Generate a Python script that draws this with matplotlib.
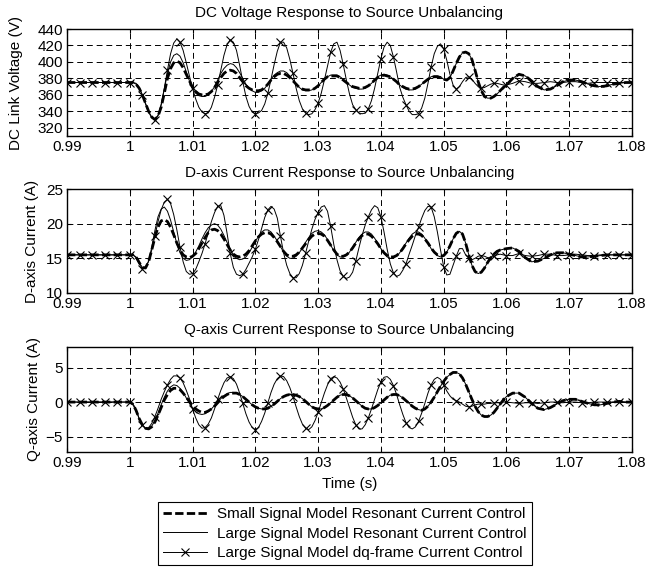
import numpy as np
import matplotlib
matplotlib.use("Agg")
import matplotlib.pyplot as plt

plt.rcParams['font.family'] = ['Liberation Sans', 'DejaVu Sans']
plt.rcParams['font.size'] = 11

# time base: 1 ms before/after the transient, 0.5 ms during it
t = np.concatenate([np.arange(9900, 10000, 10),
                    np.arange(10000, 10605, 5),
                    np.arange(10610, 10805, 10)]) / 10000.0

# ---- DC link voltage (V) ----
vdc_small = [375, 375, 375, 375, 375, 375, 375, 375, 375, 375,
             375, 375, 373, 368, 360, 350, 340, 333, 330, 334,
             345, 362, 380, 392, 399, 401, 399, 393, 385, 377,
             369, 364, 361, 360, 360, 361, 364, 369, 375, 381,
             386, 389, 390, 389, 386, 381, 376, 371, 368, 366,
             365, 365, 366, 369, 373, 378, 382, 385, 386, 386,
             384, 381, 377, 373, 369, 367, 366, 366, 366, 368,
             371, 375, 379, 382, 383, 383, 383, 381, 378, 375,
             372, 370, 369, 368, 368, 369, 371, 374, 378, 381,
             383, 384, 383, 382, 379, 376, 372, 370, 368, 367,
             367, 368, 370, 373, 376, 379, 381, 382, 382, 381,
             379, 378, 381, 389, 398, 406, 411, 412, 410, 403,
             390, 376, 365, 358, 356, 356, 358, 361, 365, 369,
             372,
             380, 385, 383, 377, 370, 366, 367, 371, 376, 378,
             378, 376, 373, 371, 370, 371, 373, 374, 375, 375]
vdc_large = [375, 375, 375, 375, 375, 375, 375, 375, 375, 375,
             375, 375, 373, 368, 360, 350, 340, 333, 330, 335,
             348, 367, 386, 400, 408, 410, 407, 399, 388, 377,
             368, 362, 359, 358, 358, 360, 364, 370, 378, 386,
             392, 396, 398, 397, 393, 387, 380, 373, 368, 365,
             363, 363, 365, 368, 373, 379, 384, 387, 389, 389,
             387, 383, 378, 373, 369, 366, 365, 365, 366, 368,
             371, 375, 379, 382, 384, 384, 384, 382, 379, 375,
             372, 369, 368, 367, 367, 368, 371, 374, 378, 382,
             384, 385, 384, 382, 379, 376, 372, 369, 367, 366,
             366, 367, 370, 373, 376, 379, 382, 383, 383, 382,
             379, 378, 381, 389, 398, 406, 411, 412, 410, 403,
             390, 376, 365, 358, 356, 356, 358, 361, 365, 369,
             372,
             380, 385, 383, 377, 370, 366, 367, 371, 376, 378,
             378, 376, 373, 371, 370, 371, 373, 374, 375, 375]
vdc_dq = [375, 375, 375, 375, 375, 375, 375, 375, 375, 375,
          375, 375, 374, 369, 360, 349, 339, 332, 330, 335,
          348, 368, 390, 410, 423, 428, 424, 414, 399, 383,
          368, 355, 345, 339, 337, 338, 345, 357, 372, 390,
          408, 421, 427, 424, 414, 396, 376, 358, 346, 339,
          337, 338, 341, 349, 362, 379, 397, 413, 424, 424,
          417, 403, 386, 368, 353, 343, 338, 336, 337, 342,
          350, 362, 378, 395, 412, 422, 424, 414, 397, 378,
          361, 348, 342, 338, 337, 338, 343, 353, 368, 386,
          404, 418, 424, 420, 406, 388, 369, 357, 348, 340,
          336, 336, 337, 344, 356, 374, 394, 410, 419, 422,
          416, 402, 385, 372, 367, 370, 376, 381, 382, 379,
          374, 370, 368, 369, 371, 373, 374, 374, 373, 372,
          372,
          374, 377, 376, 374, 374, 375, 376, 375, 375, 376,
          376, 375, 374, 375, 375, 375, 375, 375, 375, 375]

# ---- D-axis current (A) ----
id_small = [15.5, 15.5, 15.5, 15.5, 15.5, 15.5, 15.5, 15.5, 15.5, 15.5,
            15.5, 15.5, 15.2, 14.4, 13.7, 13.6, 14.5, 16.2, 18.0, 19.5,
            20.4, 20.6, 20.3, 19.5, 18.4, 17.2, 16.2, 15.5, 15.2, 15.1,
            15.3, 15.7, 16.4, 17.2, 18.0, 18.7, 19.1, 19.2, 19.0, 18.5,
            17.8, 17.0, 16.2, 15.6, 15.3, 15.2, 15.3, 15.6, 16.1, 16.8,
            17.5, 18.1, 18.5, 18.7, 18.7, 18.5, 18.0, 17.4, 16.7, 16.0,
            15.5, 15.3, 15.3, 15.5, 15.9, 16.5, 17.1, 17.7, 18.2, 18.5,
            18.6, 18.5, 18.2, 17.6, 16.9, 16.2, 15.6, 15.3, 15.3, 15.5,
            15.9, 16.5, 17.2, 17.8, 18.3, 18.5, 18.5, 18.2, 17.7, 17.1,
            16.4, 15.8, 15.4, 15.2, 15.2, 15.4, 15.8, 16.4, 17.1, 17.7,
            18.2, 18.5, 18.5, 18.3, 17.8, 17.2, 16.5, 15.9, 15.5, 15.3,
            15.4, 15.9, 16.8, 17.8, 18.6, 18.9, 18.5, 17.2, 15.5, 14.0,
            13.1, 12.8, 13.0, 13.6, 14.4, 15.1, 15.6, 16.0, 16.2, 16.3,
            16.4,
            16.5, 16.0, 15.1, 14.5, 14.6, 15.0, 15.5, 15.8, 15.8, 15.6,
            15.4, 15.2, 15.2, 15.3, 15.4, 15.5, 15.5, 15.5, 15.5, 15.5]
id_large = [15.5, 15.5, 15.5, 15.5, 15.5, 15.5, 15.5, 15.5, 15.5, 15.5,
            15.5, 15.5, 15.2, 14.4, 13.7, 13.6, 14.6, 16.6, 19.0, 21.0,
            22.1, 22.4, 21.8, 20.5, 18.8, 17.1, 15.8, 15.0, 14.7, 14.8,
            15.2, 15.9, 16.8, 17.8, 18.7, 19.4, 19.8, 20.0, 19.8, 19.2,
            18.3, 17.3, 16.3, 15.5, 15.0, 14.8, 14.9, 15.2, 15.8, 16.6,
            17.4, 18.2, 18.8, 19.1, 19.1, 18.8, 18.2, 17.5, 16.7, 15.9,
            15.3, 15.0, 15.0, 15.3, 15.8, 16.5, 17.3, 18.0, 18.6, 18.9,
            19.0, 18.8, 18.4, 17.7, 16.9, 16.1, 15.5, 15.2, 15.2, 15.4,
            15.9, 16.6, 17.3, 18.0, 18.5, 18.8, 18.8, 18.5, 17.9, 17.2,
            16.4, 15.7, 15.2, 15.0, 15.1, 15.3, 15.8, 16.5, 17.2, 17.9,
            18.5, 18.8, 18.8, 18.5, 17.9, 17.2, 16.4, 15.8, 15.4, 15.2,
            15.3, 15.9, 16.8, 17.8, 18.6, 18.9, 18.5, 17.2, 15.5, 14.0,
            13.1, 12.8, 13.0, 13.6, 14.4, 15.1, 15.6, 16.0, 16.2, 16.3,
            16.4,
            16.5, 16.0, 15.1, 14.5, 14.6, 15.0, 15.5, 15.8, 15.8, 15.6,
            15.4, 15.2, 15.2, 15.3, 15.4, 15.5, 15.5, 15.5, 15.5, 15.5]
id_dq = [15.5, 15.5, 15.5, 15.5, 15.5, 15.5, 15.5, 15.5, 15.5, 15.5,
         15.5, 15.5, 15.1, 14.2, 13.5, 13.6, 14.6, 16.2, 18.2, 20.3,
         22.0, 23.1, 23.5, 22.9, 21.3, 19.1, 16.6, 14.5, 13.1, 12.7,
         12.8, 13.4, 14.5, 15.7, 17.1, 18.7, 20.3, 21.6, 22.5, 22.6,
         21.2, 18.6, 15.7, 13.7, 12.7, 12.5, 12.7, 13.4, 14.3, 15.2,
         16.3, 17.7, 19.3, 20.9, 22.0, 22.5, 22.1, 20.8, 18.2, 15.8,
         14.0, 12.8, 12.2, 12.2, 12.8, 14.0, 15.7, 17.5, 19.2, 20.6,
         21.6, 22.4, 22.6, 21.8, 19.6, 17.0, 14.8, 13.2, 12.4, 12.1,
         12.3, 13.0, 14.6, 16.5, 18.3, 19.8, 21.0, 22.0, 22.6, 22.3,
         21.0, 18.8, 16.3, 14.2, 12.9, 12.4, 12.6, 13.3, 14.2, 15.6,
         16.9, 18.3, 19.5, 20.8, 21.9, 22.5, 22.4, 21.0, 18.8, 16.2,
         13.8, 12.6, 12.7, 14.0, 15.3, 16.4, 16.4, 15.5, 15.0, 14.8,
         15.0, 15.3, 15.4, 15.3, 15.1, 15.1, 15.3, 15.5, 15.6, 15.5,
         15.4,
         15.4, 15.7, 15.4, 15.3, 15.4, 15.6, 15.6, 15.4, 15.4, 15.5,
         15.6, 15.5, 15.4, 15.4, 15.5, 15.5, 15.5, 15.5, 15.5, 15.5]

# ---- Q-axis current (A) ----
iq_small = [0.0, 0.0, 0.0, 0.0, 0.0, 0.0, 0.0, 0.0, 0.0, 0.0,
            0.0, -0.3, -1.2, -2.4, -3.3, -3.8, -3.9, -3.6, -2.9, -1.9,
            -0.8, 0.3, 1.1, 1.7, 2.0, 2.0, 1.8, 1.3, 0.7, 0.1,
            -0.5, -1.0, -1.3, -1.5, -1.5, -1.3, -1.0, -0.6, -0.1, 0.4,
            0.8, 1.1, 1.3, 1.3, 1.3, 1.1, 0.8, 0.4, 0.0, -0.4,
            -0.7, -0.9, -1.0, -1.0, -0.9, -0.6, -0.3, 0.1, 0.5, 0.8,
            1.0, 1.1, 1.1, 1.0, 0.8, 0.5, 0.1, -0.3, -0.7, -0.9,
            -1.0, -1.0, -0.8, -0.5, -0.1, 0.3, 0.7, 1.0, 1.1, 1.1,
            0.9, 0.6, 0.2, -0.2, -0.6, -0.9, -1.0, -1.0, -0.8, -0.5,
            -0.1, 0.3, 0.7, 1.0, 1.1, 1.1, 0.9, 0.6, 0.2, -0.2,
            -0.6, -0.9, -1.1, -1.2, -1.0, -0.6, 0.0, 0.7, 1.5, 2.3,
            3.0, 3.6, 4.0, 4.3, 4.3, 4.1, 3.5, 2.6, 1.5, 0.4,
            -0.6, -1.4, -1.9, -2.1, -2.1, -1.9, -1.5, -0.9, -0.3, 0.3,
            0.8,
            1.3, 1.3, 0.7, -0.2, -0.9, -1.1, -0.8, -0.3, 0.2, 0.4,
            0.4, 0.1, -0.2, -0.4, -0.4, -0.2, 0.0, 0.1, 0.0, 0.0]
iq_large = [0.0, 0.0, 0.0, 0.0, 0.0, 0.0, 0.0, 0.0, 0.0, 0.0,
            0.0, -0.3, -1.2, -2.4, -3.3, -3.8, -3.9, -3.5, -2.7, -1.6,
            -0.4, 0.7, 1.6, 2.2, 2.5, 2.4, 2.0, 1.4, 0.6, -0.2,
            -0.9, -1.4, -1.7, -1.8, -1.7, -1.4, -1.0, -0.5, 0.0, 0.5,
            0.9, 1.2, 1.4, 1.4, 1.3, 1.1, 0.8, 0.4, 0.0, -0.4,
            -0.7, -0.9, -1.0, -1.0, -0.9, -0.6, -0.3, 0.1, 0.5, 0.8,
            1.0, 1.1, 1.1, 1.0, 0.8, 0.5, 0.1, -0.3, -0.7, -0.9,
            -1.0, -1.0, -0.8, -0.5, -0.1, 0.3, 0.7, 1.0, 1.1, 1.1,
            0.9, 0.6, 0.2, -0.2, -0.6, -0.9, -1.0, -1.0, -0.8, -0.5,
            -0.1, 0.3, 0.7, 1.0, 1.1, 1.1, 0.9, 0.6, 0.2, -0.2,
            -0.6, -0.9, -1.1, -1.2, -1.0, -0.6, 0.0, 0.7, 1.5, 2.3,
            3.0, 3.6, 4.0, 4.3, 4.3, 4.1, 3.5, 2.6, 1.5, 0.4,
            -0.6, -1.4, -1.9, -2.1, -2.1, -1.9, -1.5, -0.9, -0.3, 0.3,
            0.8,
            1.3, 1.3, 0.7, -0.2, -0.9, -1.1, -0.8, -0.3, 0.2, 0.4,
            0.4, 0.1, -0.2, -0.4, -0.4, -0.2, 0.0, 0.1, 0.0, 0.0]
iq_dq = [0.0, 0.0, 0.0, 0.0, 0.0, 0.0, 0.0, 0.0, 0.0, 0.0,
         0.0, -0.3, -1.2, -2.4, -3.4, -3.8, -3.7, -3.1, -2.1, -0.9,
         0.4, 1.5, 2.5, 3.3, 3.8, 3.8, 3.5, 2.8, 1.7, 0.5,
         -1.0, -2.3, -3.3, -3.8, -3.7, -3.2, -2.3, -1.0, 0.4, 1.7,
         2.8, 3.5, 3.7, 3.4, 2.6, 1.3, -0.2, -1.7, -2.9, -3.7,
         -4.0, -3.7, -2.8, -1.6, -0.1, 1.4, 2.6, 3.4, 3.8, 3.7,
         3.1, 2.1, 0.8, -0.7, -2.1, -3.2, -3.8, -4.0, -3.6, -2.7,
         -1.5, -0.1, 1.3, 2.5, 3.4, 3.7, 3.5, 2.9, 1.9, 0.6,
         -0.8, -2.2, -3.3, -3.9, -3.9, -3.3, -2.3, -1.0, 0.4, 1.8,
         2.9, 3.6, 3.7, 3.3, 2.4, 1.1, -0.4, -1.8, -3.0, -3.7,
         -3.9, -3.6, -2.8, -1.6, -0.2, 1.3, 2.5, 3.3, 3.6, 3.3,
         2.5, 1.6, 0.9, 0.4, 0.2, 0.0, -0.3, -0.6, -0.7, -0.6,
         -0.4, -0.3, -0.3, -0.3, -0.2, -0.2, -0.1, -0.1, -0.1, 0.0,
         0.0,
         -0.1, -0.2, -0.1, -0.1, -0.2, -0.1, 0.0, 0.0, -0.1, 0.0,
         0.0, -0.1, -0.1, 0.0, 0.0, 0.0, 0.0, 0.0, 0.0, 0.0]

xticks = [0.99, 1.0, 1.01, 1.02, 1.03, 1.04, 1.05, 1.06, 1.07, 1.08]
xticklabels = ['0.99', '1', '1.01', '1.02', '1.03', '1.04', '1.05', '1.06', '1.07', '1.08']
labels = ['Small Signal Model Resonant Current Control',
          'Large Signal Model Resonant Current Control',
          'Large Signal Model dq-frame Current Control']

panels = [
    ('DC Voltage Response to Source Unbalancing', 'DC Link Voltage (V)',
     vdc_small, vdc_large, vdc_dq, (310, 440), [320, 340, 360, 380, 400, 420, 440]),
    ('D-axis Current Response to Source Unbalancing', 'D-axis Current (A)',
     id_small, id_large, id_dq, (10, 25), [10, 15, 20, 25]),
    ('Q-axis Current Response to Source Unbalancing', 'Q-axis Current (A)',
     iq_small, iq_large, iq_dq, (-7.25, 8), [-5, 0, 5]),
]
boxes = [[0.1003, 0.7647, 0.8458, 0.1851],
         [0.1003, 0.4931, 0.8458, 0.1799],
         [0.1003, 0.2180, 0.8458, 0.1817]]
ypads = [10, 5, 3]

marks = [i for i, tt in enumerate(t) if int(round(tt * 10000)) % 20 == 0]

fig = plt.figure(figsize=(6.68, 5.78), dpi=100)
for box, pad, (title, ylab, ys, yl, yq, ylim, yticks) in zip(boxes, ypads, panels):
    ax = fig.add_axes(box)
    ax.plot(t, yl, color='black', lw=0.7, label=labels[1])
    ax.plot(t, yq, color='black', lw=0.7, marker='x', ms=6, mew=0.8,
            markevery=marks, label=labels[2])
    ax.plot(t, ys, color='black', lw=2.0, ls=(0, (3, 1.2)), label=labels[0])
    ax.set_xlim(0.99, 1.08)
    ax.set_ylim(*ylim)
    ax.set_xticks(xticks)
    ax.set_xticklabels(xticklabels)
    ax.set_yticks(yticks)
    ax.grid(True, color='black', ls=(0, (6, 4)), lw=0.7)
    ax.tick_params(direction='in', top=True, right=True, length=3, pad=3)
    for s in ax.spines.values():
        s.set_linewidth(1.0)
    ax.set_title(title, fontsize=11, pad=9)
    ax.set_ylabel(ylab, labelpad=pad)
    last = ax

last.set_xlabel('Time (s)', labelpad=5)

h, l = last.get_legend_handles_labels()
order = [2, 0, 1]
leg = fig.legend([h[i] for i in order], [l[i] for i in order],
                 loc='upper center', bbox_to_anchor=(0.5165, 0.1315),
                 borderaxespad=0, fancybox=False, edgecolor='black',
                 framealpha=1, handlelength=2.9, handletextpad=0.65,
                 numpoints=1, labelspacing=0.35, borderpad=0.35, fontsize=11)
leg.get_frame().set_linewidth(0.8)

fig.savefig('out.png', dpi=100)
